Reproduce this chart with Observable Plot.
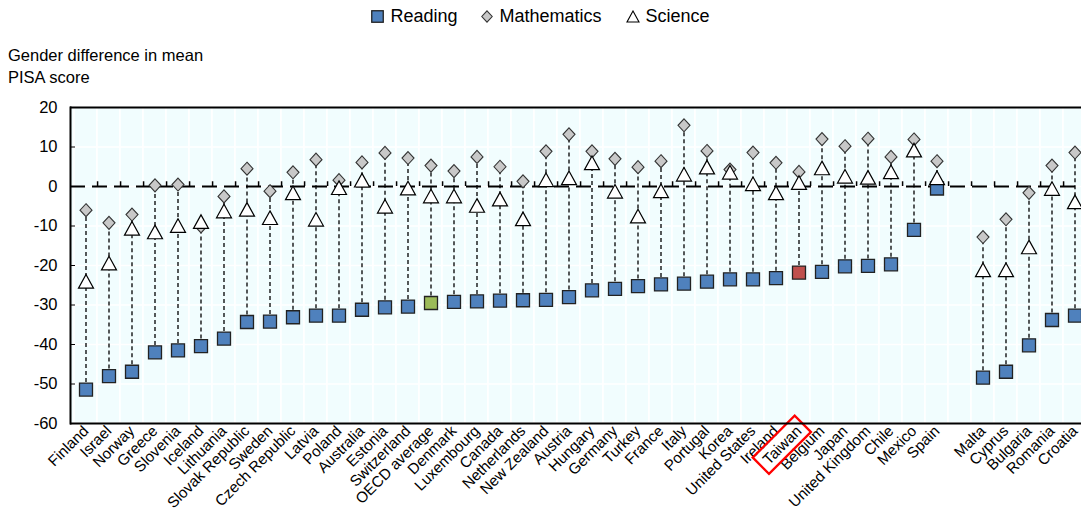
<!DOCTYPE html>
<html>
<head>
<meta charset="utf-8">
<script src="https://cdn.jsdelivr.net/npm/d3@7"></script>
<script src="https://cdn.jsdelivr.net/npm/@observablehq/plot@0.6"></script>
<style>
  body { margin: 0; background: #fff; font-family: "Liberation Sans", Arial, sans-serif; color: #000; width: 1081px; height: 513px; overflow: hidden; }
  #legend { height: 32px; display: flex; justify-content: center; align-items: center; font-size: 18px; gap: 0; padding-left: 0px; }
  #legend .item { display: flex; align-items: center; margin: 0 12px; }
  #legend svg { margin-right: 6px; }
  #ytitle { margin-top: 12px; height: 46px; padding-left: 8px; font-size: 16.5px; line-height: 22px; }
  #chart svg { display: block; overflow: hidden; }
</style>
</head>
<body>
<div id="legend"></div>
<div id="ytitle">Gender difference in mean<br>PISA score</div>
<div id="chart"></div>
<script>
// ---- Data ----
const groupA = ["Finland","Israel","Norway","Greece","Slovenia","Iceland","Lithuania","Slovak Republic","Sweden","Czech Republic","Latvia","Poland","Australia","Estonia","Switzerland","OECD average","Denmark","Luxembourg","Canada","Netherlands","New Zealand","Austria","Hungary","Germany","Turkey","France","Italy","Portugal","Korea","United States","Ireland","Taiwan","Belgium","Japan","United Kingdom","Chile","Mexico","Spain"];
const readingA = [-51.4,-48.0,-46.9,-42.0,-41.5,-40.4,-38.5,-34.3,-34.2,-33.1,-32.7,-32.7,-31.2,-30.6,-30.4,-29.5,-29.2,-29.1,-28.9,-28.8,-28.7,-28.0,-26.3,-25.9,-25.2,-24.8,-24.6,-24.1,-23.5,-23.5,-23.2,-21.8,-21.6,-20.2,-20.1,-19.7,-11.0,-0.5];
const mathA = [-6.0,-9.2,-7.1,0.3,0.5,-10.1,-2.5,4.5,-1.2,3.6,6.8,1.6,6.1,8.5,7.2,5.3,3.9,7.5,5.0,1.3,8.9,13.2,8.9,7.0,4.9,6.4,15.5,9.0,4.3,8.6,6.0,3.7,12.0,10.2,12.1,7.5,11.9,6.4];
const scienceA = [-24.0,-19.4,-10.6,-11.5,-9.9,-8.9,-6.2,-5.8,-7.9,-1.6,-8.3,-0.3,1.6,-5.0,-0.4,-2.4,-2.4,-4.8,-3.2,-8.2,1.7,2.2,6.0,-1.2,-7.5,-1.1,3.1,4.9,3.6,0.7,-1.6,1.0,4.7,2.6,2.3,3.7,9.2,2.2];

const groupB = ["Malta","Cyprus","Bulgaria","Romania","Croatia"];
const readingB = [-48.4,-46.9,-40.2,-33.8,-32.7];
const mathB = [-12.8,-8.3,-1.6,5.3,8.6];
const scienceB = [-21.1,-21.1,-15.3,-0.5,-3.9];

const gapKey = "\u200b";           // empty slot between the two groups
const highlightAvg = "OECD average";
const highlightCountry = "Taiwan";
const yTicks = [-60,-50,-40,-30,-20,-10,0,10,20];

const COL = { reading: "#4F81BD", avg: "#9BBB59", hi: "#C0504D", math: "#C8C8C8", sci: "#FFFFFF", bg: "#F1FDFE" };

// ---- Build table ----
const rows = [];
groupA.forEach((c,i) => rows.push({country: c, reading: readingA[i], math: mathA[i], science: scienceA[i]}));
groupB.forEach((c,i) => rows.push({country: c, reading: readingB[i], math: mathB[i], science: scienceB[i]}));
const domain = [...groupA, gapKey, ...groupB];

// ---- Custom symbols (bbox centred) ----
const symSquare = { draw(ctx) { const s = 6.5; ctx.moveTo(-s,-s); ctx.lineTo(s,-s); ctx.lineTo(s,s); ctx.lineTo(-s,s); ctx.closePath(); } };
const symDiamond = { draw(ctx) { const w = 6, h = 6.5; ctx.moveTo(0,-h); ctx.lineTo(w,0); ctx.lineTo(0,h); ctx.lineTo(-w,0); ctx.closePath(); } };
const symTriangle = { draw(ctx) { const w = 7.5, h = 6.8; ctx.moveTo(0,-h); ctx.lineTo(w,h); ctx.lineTo(-w,h); ctx.closePath(); } };

// ---- Legend ----
const legend = document.getElementById("legend");
legend.innerHTML = `
  <span class="item"><svg width="13" height="13"><rect x="0.75" y="0.75" width="11.5" height="11.5" fill="${COL.reading}" stroke="#222" stroke-width="1.3"/></svg>Reading</span>
  <span class="item"><svg width="12" height="13"><path d="M6,0.8L11.2,6.5L6,12.2L0.8,6.5Z" fill="${COL.math}" stroke="#333" stroke-width="1.1"/></svg>Mathematics</span>
  <span class="item"><svg width="14" height="13"><path d="M7,1L13,12L1,12Z" fill="#fff" stroke="#000" stroke-width="1.1"/></svg>Science</span>`;

// ---- Chart ----
const W = 1081, H = 423, mL = 70, mR = -8, mT = 17, mB = 90;
const step = (W - mR - mL) / domain.length;

const chart = Plot.plot({
  width: W, height: H,
  marginLeft: mL, marginRight: mR, marginTop: mT, marginBottom: mB,
  style: { fontFamily: '"Liberation Sans", Arial, sans-serif', background: "transparent", color: "#000" },
  x: { type: "band", domain, padding: 0, label: null },
  y: { domain: [-60, 20], label: null },
  color: { type: "identity" },
  marks: [
    Plot.frame({ fill: COL.bg }),
    Plot.cell(domain, { x: d => d, fill: COL.bg, stroke: "#fff", strokeWidth: 1.5 }),
    Plot.ruleY(yTicks, { stroke: "#fff", strokeWidth: 1.5 }),
    Plot.ruleY([0], { stroke: "#000", strokeWidth: 2, strokeDasharray: "15,7" }),
    Plot.ruleX(domain.slice(0, -1), { x: d => d, y1: 0, y2: 1.2, dx: step / 2, stroke: "#000", strokeWidth: 1.5 }),
    Plot.ruleX(rows, { x: "country", y1: d => Math.min(d.reading, d.math, d.science), y2: d => Math.max(d.reading, d.math, d.science), stroke: "#000", strokeWidth: 1.3, strokeDasharray: "4,3" }),
    Plot.dot(rows, { x: "country", y: "reading", symbol: symSquare, r: 5,
      fill: d => d.country === highlightAvg ? COL.avg : d.country === highlightCountry ? COL.hi : COL.reading,
      stroke: "#222", strokeWidth: 1.3 }),
    Plot.dot(rows, { x: "country", y: "math", symbol: symDiamond, r: 5, fill: COL.math, stroke: "#333", strokeWidth: 1.1 }),
    Plot.dot(rows, { x: "country", y: "science", symbol: symTriangle, r: 5, fill: COL.sci, stroke: "#000", strokeWidth: 1.2 }),
    Plot.axisY({ ticks: yTicks, tickSize: -5, tickPadding: 18, fontSize: 16.5, tickFormat: d => String(d) }),
    Plot.axisX({ tickSize: 0, tickRotate: -45, tickPadding: 5, fontSize: 15.2, dx: 0, tickFormat: d => d === gapKey ? "" : d }),
    Plot.ruleY([20, -60], { stroke: "#000", strokeWidth: 2 }),
    Plot.frame({ anchor: "left", stroke: "#000", strokeWidth: 2 })
  ]
});
document.getElementById("chart").appendChild(chart);

// ---- Red box around the highlighted label ----
chart.querySelectorAll("text").forEach(t => {
  if (t.textContent === highlightCountry) {
    const bb = t.getBBox();
    const r = document.createElementNS("http://www.w3.org/2000/svg", "rect");
    r.setAttribute("x", bb.x - 6);
    r.setAttribute("y", bb.y - 3);
    r.setAttribute("width", bb.width + 12);
    r.setAttribute("height", bb.height + 6);
    r.setAttribute("fill", "none");
    r.setAttribute("stroke", "#FF0000");
    r.setAttribute("stroke-width", 2.4);
    if (t.getAttribute("transform")) r.setAttribute("transform", t.getAttribute("transform"));
    t.parentNode.appendChild(r);
  }
});
</script>
</body>
</html>
